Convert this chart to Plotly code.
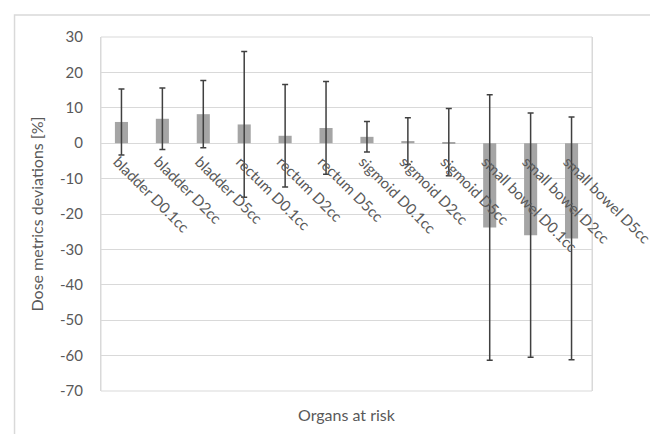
import plotly.graph_objects as go

categories = ["bladder D0.1cc", "bladder D2cc", "bladder D5cc", "rectum D0.1cc", "rectum D2cc",
              "rectum D5cc", "sigmoid D0.1cc", "sigmoid D2cc", "sigmoid D5cc",
              "small bowel D0.1cc", "small bowel D2cc", "small bowel D5cc"]
mean_dev = [6.0, 6.9, 8.2, 5.3, 2.1, 4.3, 1.8, 0.6, 0.3, -23.8, -26.0, -26.9]
sd_dev = [9.3, 8.7, 9.5, 20.6, 14.5, 13.1, 4.3, 6.6, 9.5, 37.5, 34.5, 34.3]
y_ticks = [-70, -60, -50, -40, -30, -20, -10, 0, 10, 20, 30]
y_ticklabels = [str(v) for v in y_ticks]

ymin, ymax = y_ticks[0], y_ticks[-1]
FONT = "Lato"
TXT = "#595959"
GRID = "#D9D9D9"

fig = go.Figure()
fig.add_trace(go.Bar(
    x=categories, y=mean_dev,
    marker=dict(color="#A5A5A5", line=dict(width=0)),
    error_y=dict(type="data", array=sd_dev, visible=True, color="#404040", thickness=1.5, width=3),
))

fig.update_layout(
    width=658, height=434,
    margin=dict(l=93, r=71, t=29, b=51),
    paper_bgcolor="white", plot_bgcolor="white",
    showlegend=False,
    bargap=0.68,
    font=dict(family=FONT, color=TXT, size=14),
    xaxis=dict(
        anchor="free", position=(0 - ymin) / (ymax - ymin),
        tickangle=45, ticks="", showline=False, showgrid=False,
        ticklabelstandoff=6, ticklabelshift=-4,
        tickfont=dict(family=FONT, size=15, color=TXT),
    ),
    yaxis=dict(
        range=[ymin, ymax], tickvals=y_ticks, ticktext=y_ticklabels, ticks="",
        ticklabelstandoff=14,
        showgrid=True, gridcolor=GRID, gridwidth=1,
        zeroline=True, zerolinecolor=GRID, zerolinewidth=1,
        showline=True, linecolor=GRID, linewidth=1, mirror=True,
        tickfont=dict(family=FONT, size=15, color=TXT),
        title=dict(text="Dose metrics deviations [%]", font=dict(family=FONT, size=16, color=TXT), standoff=12),
    ),
    shapes=[
        dict(type="rect", xref="paper", yref="paper", x0=0, x1=1, y0=0, y1=1,
             line=dict(color=GRID, width=1), layer="below"),
        dict(type="rect", xref="paper", yref="paper", x0=-87/494, x1=(655-93)/494,
             y0=-(432-383)/354, y1=(383-7)/354, line=dict(color=GRID, width=1.5)),
    ],
    annotations=[
        dict(text="Organs at risk", xref="paper", yref="paper", x=0.5, y=-0.035,
             xanchor="center", yanchor="top", showarrow=False,
             font=dict(family=FONT, size=16, color=TXT)),
    ],
)

fig.write_html("out.html")
